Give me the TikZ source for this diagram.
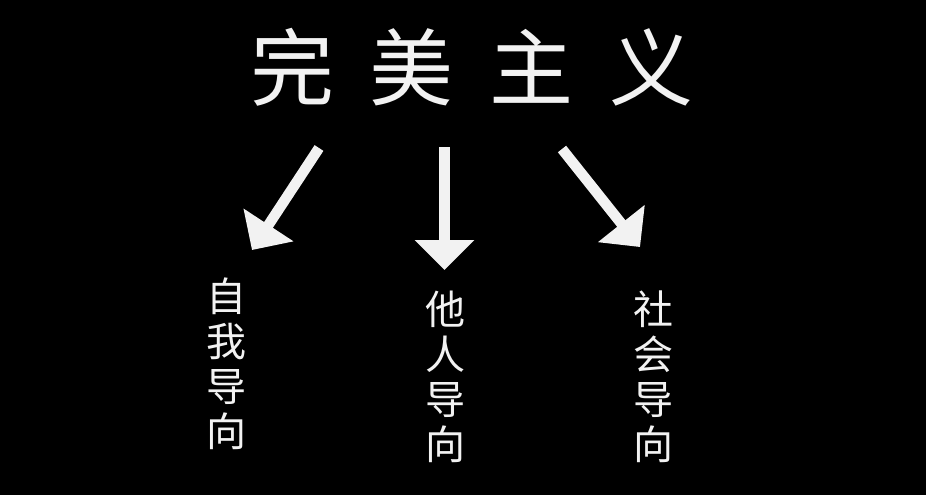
\documentclass[tikz,border=0pt]{standalone}
\usepackage{fontspec}
\newfontfamily\cjk{Noto Sans CJK SC}
\usetikzlibrary{arrows.meta}
\definecolor{ink}{HTML}{F2F2F2}
\begin{document}
\begin{tikzpicture}[x=1pt,y=-1pt,
  titletext/.style={text=ink,font=\cjk\fontsize{84}{84}\selectfont,inner sep=0pt},
  vtext/.style={text=ink,font=\cjk\fontsize{40}{45}\selectfont,align=center,inner sep=0pt},
  bigarrow/.style={draw=ink,line width=10.5pt,-{Triangle[width=58pt,length=30pt,fill=ink]}}]
\fill[black] (0,0) rectangle (926,495);
\useasboundingbox (0,0) rectangle (926,495);
\node[titletext] (title) at (472,67) {完\hspace{36pt}美\hspace{36pt}主\hspace{36pt}义};
\coordinate (a1s) at (319,148);
\coordinate (a1e) at (252,250);
\coordinate (a2s) at (444.5,147);
\coordinate (a2e) at (444.5,270);
\coordinate (a3s) at (562,149);
\coordinate (a3e) at (640,247);
\draw[bigarrow] (a1s) -- (a1e);
\draw[bigarrow] (a2s) -- (a2e);
\draw[bigarrow] (a3s) -- (a3e);
\node[vtext] (self) at (226,364) {自\\我\\导\\向};
\node[vtext] (other) at (445,377) {他\\人\\导\\向};
\node[vtext] (social) at (653,377) {社\\会\\导\\向};
\end{tikzpicture}
\end{document}
